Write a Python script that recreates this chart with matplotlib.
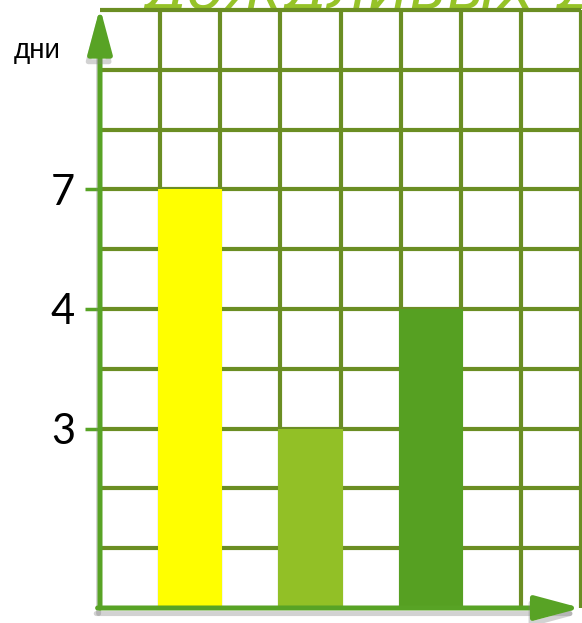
import matplotlib

matplotlib.use("Agg")
import matplotlib.pyplot as plt  # noqa: E402
import matplotlib.patheffects as pe  # noqa: E402
import numpy as np  # noqa: E402

# values shown on the chart
days = [7, 3, 4]
bar_cols = [1.5, 3.5, 5.5]
bar_colors = ["#FFFF00", "#92C026", "#56A022"]
tick_vals = [3, 4, 7]
tick_labels = ["3", "4", "7"]

# the hand-drawn axis puts 4 two cells above 3, so the scale is piecewise
data_knots = [0, 3, 4, 7, 10]
cell_knots = [0, 3, 5, 7, 10]

GRID = "#6B8E23"
AXIS = "#58A325"
W, H = 582, 623


def fwd(v):
    return np.interp(v, data_knots, cell_knots)


def inv(c):
    return np.interp(c, cell_knots, data_knots)


fig = plt.figure(figsize=(W / 100, H / 100), dpi=100)
# title sits mostly above the picture, only its lower edge shows
fig.text(143 / W, 1 - 9 / H, "дождливых дней", fontsize=46, style="italic",
         color="#96C328", va="baseline", family="DejaVu Sans", zorder=-5)
fig.text(14 / W, 1 - 58 / H, "дни", fontsize=20, va="baseline",
         family="Liberation Sans")

ax = fig.add_axes([100 / W, 15 / H, 481 / W, 598 / H])
ax.set_zorder(1)
ax.set_yscale("function", functions=(fwd, inv))
ax.set_xlim(0, 8)
ax.set_ylim(0, 10)

ax.vlines(np.arange(1, 9), 0, 10, color=GRID, lw=3, zorder=1, clip_on=False)
ax.hlines(inv(np.arange(1, 11)), 0, 8, color=GRID, lw=3, zorder=1, clip_on=False)

ax.bar(bar_cols, days, width=1.07, color=bar_colors, linewidth=0, zorder=2)

for s in ax.spines.values():
    s.set_visible(False)
ax.set_xticks([])
ax.set_yticks(tick_vals)
ax.set_yticklabels(tick_labels, family="Lato")
ax.tick_params(axis="y", length=11, width=2.5, color=AXIS, labelsize=30, pad=7)
ax.yaxis.set_minor_locator(matplotlib.ticker.NullLocator())

shadow = [pe.SimpleLineShadow(offset=(-1, -4), shadow_color="gray", alpha=0.35),
          pe.Normal()]
arrow = dict(arrowstyle="-|>,head_length=2.8,head_width=0.75", color=AXIS,
             lw=3.6, mutation_scale=10, shrinkA=0, shrinkB=0)
ax.annotate("", xy=(0, 1.004), xytext=(0, 0), xycoords="axes fraction",
            arrowprops=arrow, annotation_clip=False, zorder=5).arrow_patch.set_path_effects(shadow)
ax.annotate("", xy=(1.0, 0), xytext=(-0.005, 0), xycoords="axes fraction",
            arrowprops=arrow, annotation_clip=False, zorder=5).arrow_patch.set_path_effects(shadow)

fig.savefig("out.png", dpi=100)
